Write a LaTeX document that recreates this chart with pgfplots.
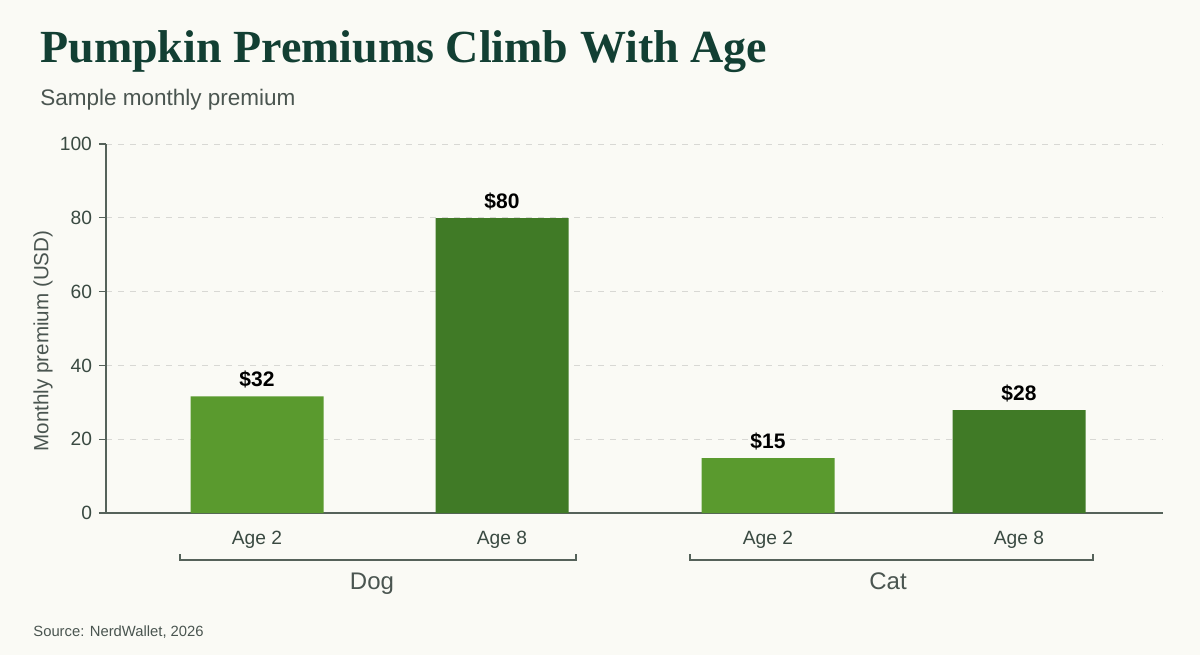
\documentclass[border=0pt]{standalone}
\usepackage{fontspec}
\setmainfont{Liberation Sans}
\newfontfamily\titlefont{Liberation Serif}
\usepackage{pgfplots}
\pgfplotsset{compat=1.18}
\definecolor{bg}{HTML}{FAFAF5}
\definecolor{titlegreen}{HTML}{123F33}
\definecolor{subgray}{HTML}{4A5550}
\definecolor{tickgray}{HTML}{3A4A42}
\definecolor{axisgray}{HTML}{55625A}
\definecolor{gridgray}{HTML}{D8D8D4}
\definecolor{lightbar}{HTML}{5A9A2E}
\definecolor{darkbar}{HTML}{407A26}
\begin{document}
\begin{tikzpicture}[x=1pt,y=1pt]
\fill[bg] (0,0) rectangle (600,327.5);
\node[anchor=base west, inner sep=0, font=\titlefont\bfseries\fontsize{23}{27}\selectfont, text=titlegreen] at (20,296) {Pumpkin Premiums Climb With Age};
\node[anchor=base west, inner sep=0, font=\fontsize{11.25}{13}\selectfont, text=subgray] at (20,274.5) {Sample monthly premium};
\begin{axis}[
  at={(53pt,71pt)}, anchor=south west, scale only axis,
  width=528.5pt, height=184.5pt,
  xmin=106, xmax=1163, ymin=0, ymax=100,
  enlargelimits=false,
  axis lines=left,
  axis line style={-, draw=axisgray, line width=0.6pt},
  ytick={0,20,40,60,80,100},
  xtick={257,502,768,1019},
  xticklabels={Age 2,Age 8,Age 2,Age 8},
  tick align=outside,
  major tick length=3.5pt,
  xtick style={draw=none},
  ytick style={draw=axisgray, line width=0.6pt},
  ymajorgrids,
  grid style={dashed, draw=gridgray, line width=0.5pt},
  yticklabel style={font=\fontsize{9.6}{11}\selectfont, text=tickgray},
  xticklabel style={font=\fontsize{9.6}{11}\selectfont, text=tickgray, anchor=base, yshift=-12pt},
  /pgf/number format/assume math mode=true,
  clip=false,
  every node near coord/.append style={font=\bfseries\fontsize{10.5}{12}\selectfont, text=black, anchor=south, inner sep=2pt, yshift=2pt},
]
\addplot[ybar, bar width=133, bar shift=0pt, fill=lightbar, draw=none,
  nodes near coords={\$\pgfmathprintnumber[fixed,precision=0]{\pgfplotspointmeta}}] table {
x y
257 31.6
768 14.9
};
\addplot[ybar, bar width=133, bar shift=0pt, fill=darkbar, draw=none,
  nodes near coords={\$\pgfmathprintnumber[fixed,precision=0]{\pgfplotspointmeta}}] table {
x y
502 79.9
1019 27.9
};
\end{axis}
\draw[axisgray, line width=0.6pt] (90,50.5) -- (90,47.5) -- (288,47.5) -- (288,50.5);
\draw[axisgray, line width=0.6pt] (345,50.5) -- (345,47.5) -- (546.5,47.5) -- (546.5,50.5);
\node[anchor=base, inner sep=0, font=\fontsize{12}{14}\selectfont, text=subgray] at (186,33) {Dog};
\node[anchor=base, inner sep=0, font=\fontsize{12}{14}\selectfont, text=subgray] at (444,33) {Cat};
\node[rotate=90, inner sep=0, font=\fontsize{10.3}{12}\selectfont, text=subgray] at (21.5,157) {Monthly premium (USD)};
\node[anchor=base west, inner sep=0, font=\fontsize{7.4}{9}\selectfont, text=subgray] at (16.5,9.5) {Source: NerdWallet, 2026};
\end{tikzpicture}
\end{document}
